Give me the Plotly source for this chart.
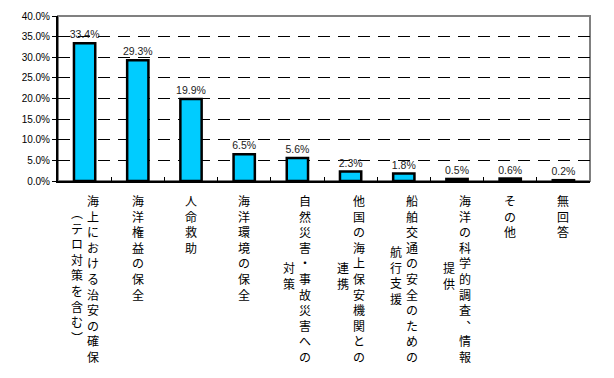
import plotly.graph_objects as go

categories = [
    "海上における治安の確保（テロ対策を含む）",
    "海洋権益の保全",
    "人命救助",
    "海洋環境の保全",
    "自然災害・事故災害への対策",
    "他国の海上保安機関との連携",
    "船舶交通の安全のための航行支援",
    "海洋の科学的調査、情報提供",
    "その他",
    "無回答",
]
values = [33.4, 29.3, 19.9, 6.5, 5.6, 2.3, 1.8, 0.5, 0.6, 0.2]
value_labels = ["33.4%", "29.3%", "19.9%", "6.5%", "5.6%", "2.3%", "1.8%", "0.5%", "0.6%", "0.2%"]
# vertical label columns (first column on the right, as in Japanese vertical writing)
label_columns = [
    ["海上における治安の確保", "︵テロ対策を含む︶"],
    ["海洋権益の保全"],
    ["人命救助"],
    ["海洋環境の保全"],
    ["自然災害・事故災害への", "対策"],
    ["他国の海上保安機関との", "連携"],
    ["船舶交通の安全のための", "航行支援"],
    ["海洋の科学的調査︑情報", "提供"],
    ["その他"],
    ["無回答"],
]
y_ticks = [0, 5, 10, 15, 20, 25, 30, 35, 40]

fig = go.Figure()
fig.add_trace(go.Bar(
    x=list(range(len(categories))),
    y=values,
    text=value_labels,
    textposition="outside",
    textfont=dict(family="Liberation Sans, Arial, sans-serif", size=10.5, color="#222222"),
    constraintext="none",
    cliponaxis=False,
    marker=dict(color="#00CCFF", line=dict(color="black", width=2.5)),
    hovertext=categories,
))

LINE_H = 15.5
TOP_SHIFT = -9
FONT = "Noto Sans CJK JP, sans-serif"
for i, cols in enumerate(label_columns):
    n = len(cols)
    first_len = len(cols[0])
    center_shift = TOP_SHIFT - first_len * LINE_H / 2
    for j, col in enumerate(cols):
        xshift = 0 if n == 1 else (8 if j == 0 else -8)
        txt = "<br>".join(list(col))
        if j == 0:
            fig.add_annotation(x=i, y=0, xref="x", yref="paper", text=txt,
                               showarrow=False, yanchor="top", xanchor="center",
                               xshift=xshift, yshift=TOP_SHIFT,
                               font=dict(family=FONT, size=12, color="black"))
        else:
            fig.add_annotation(x=i, y=0, xref="x", yref="paper", text=txt,
                               showarrow=False, yanchor="middle", xanchor="center",
                               xshift=xshift, yshift=center_shift,
                               font=dict(family=FONT, size=12, color="black"))

fig.add_shape(type="rect", xref="paper", yref="paper", x0=0, x1=1, y0=0, y1=1,
              line=dict(color="#808080", width=2), layer="below")

fig.update_layout(
    width=606, height=370,
    margin=dict(l=50, r=24, t=8, b=197),
    paper_bgcolor="white", plot_bgcolor="white",
    showlegend=False,
    bargap=0.6,
    xaxis=dict(
        type="linear", range=[-0.5, 9.5],
        showticklabels=False, showgrid=False, zeroline=False,
        showline=True, linecolor="black", linewidth=2,
        tickmode="array", tickvals=[k + 0.5 for k in range(-1, 10)],
        ticks="inside", ticklen=4, tickcolor="black", tickwidth=1,
    ),
    yaxis=dict(
        range=[0, 40], tickmode="array", tickvals=y_ticks,
        ticktext=[f"{v:.1f}%" for v in y_ticks],
        tickfont=dict(family="Liberation Sans, Arial, sans-serif", size=10, color="black"),
        showgrid=True, gridcolor="black", gridwidth=1, griddash="12px,8px",
        zeroline=False, showline=True, linecolor="black", linewidth=2,
        ticks="outside", ticklen=4, tickcolor="black", automargin=False,
    ),
)

fig.write_html("out.html")
